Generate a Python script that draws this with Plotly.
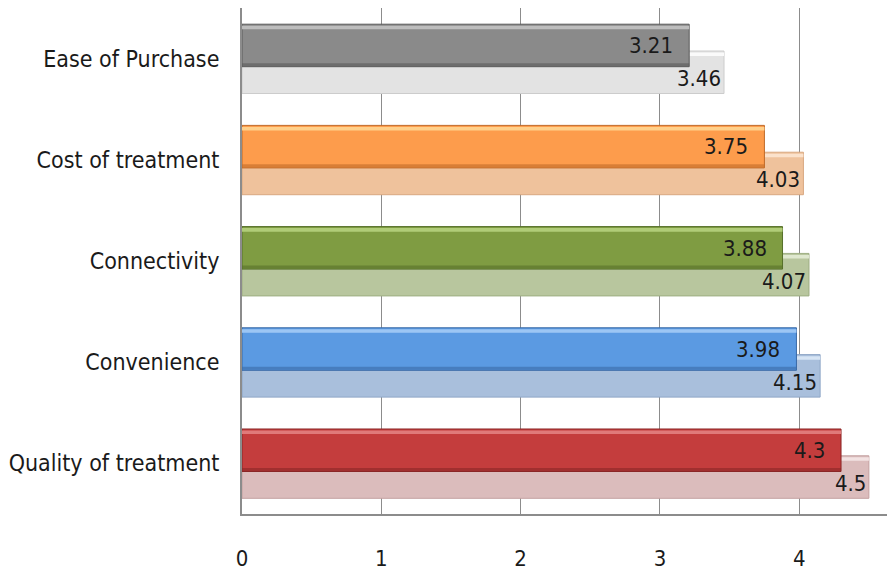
import plotly.graph_objects as go

# Categories listed bottom-to-top
categories = ["Quality of treatment", "Convenience", "Connectivity",
              "Cost of treatment", "Ease of Purchase"]
front_values = [4.3, 3.98, 3.88, 3.75, 3.21]
back_values = [4.5, 4.15, 4.07, 4.03, 3.46]

front_colors = ["#c43d3d", "#5b9ae2", "#7f9c42", "#fd9c4c", "#8a8a8a"]
front_edges = ["#8a2626", "#3a6aa6", "#56702a", "#c06a28", "#5a5a5a"]
front_highlights = ["#e07a7a", "#9cc6f4", "#b0cc78", "#ffd08a", "#bdbdbd"]
back_colors = ["#dbbcbc", "#a9bfdc", "#b8c69e", "#efc29c", "#e3e3e3"]
back_edges = ["#c4a0a0", "#8ea6c6", "#9eae82", "#d8a880", "#cccccc"]
back_highlights = ["#f2e2e2", "#d6e4f4", "#dfe8cf", "#fbe2cc", "#fafafa"]

FONT = "DejaVu Sans Condensed, DejaVu Sans, sans-serif"

FRONT_OFF, FRONT_W = -0.08, 0.42
BACK_OFF, BACK_W = -0.345, 0.42

fig = go.Figure()

# Lighter series sits behind, shifted downward
fig.add_trace(go.Bar(
    y=categories, x=back_values, orientation="h",
    offset=BACK_OFF, width=BACK_W,
    marker=dict(color=back_colors, line=dict(color=back_edges, width=1)),
    hoverinfo="skip", showlegend=False,
))
fig.add_trace(go.Bar(
    y=categories, x=back_values, orientation="h",
    offset=BACK_OFF + BACK_W - 0.05, width=0.035,
    marker=dict(color=back_highlights, line=dict(width=0)),
    hoverinfo="skip", showlegend=False,
))

# Main series in front
fig.add_trace(go.Bar(
    y=categories, x=front_values, orientation="h",
    offset=FRONT_OFF, width=FRONT_W,
    marker=dict(color=front_colors, line=dict(color=front_edges, width=1)),
    hoverinfo="skip", showlegend=False,
))
# Bevel highlight along the top edge of the front bars
fig.add_trace(go.Bar(
    y=categories, x=front_values, orientation="h",
    offset=FRONT_OFF + FRONT_W - 0.05, width=0.035,
    marker=dict(color=front_highlights, line=dict(width=0)),
    hoverinfo="skip", showlegend=False,
))
# Darker shading along the bottom edge of the front bars
fig.add_trace(go.Bar(
    y=categories, x=front_values, orientation="h",
    offset=FRONT_OFF + 0.005, width=0.03,
    marker=dict(color=front_edges, opacity=0.6, line=dict(width=0)),
    hoverinfo="skip", showlegend=False,
))

annotations = []
for cat, fv, bv in zip(categories, front_values, back_values):
    annotations.append(dict(
        x=fv, y=cat, text=f"{fv:g}", showarrow=False,
        xanchor="right", yanchor="middle", xshift=-14, yshift=13,
        font=dict(family=FONT, size=22, color="#1a1a1a"),
    ))
    annotations.append(dict(
        x=bv, y=cat, text=f"{bv:g}", showarrow=False,
        xanchor="right", yanchor="middle", xshift=-1, yshift=-20,
        font=dict(family=FONT, size=22, color="#1a1a1a"),
    ))

fig.update_layout(
    width=887, height=571,
    margin=dict(l=242, r=0, t=8, b=53),
    paper_bgcolor="white", plot_bgcolor="white",
    barmode="overlay",
    annotations=annotations,
    xaxis=dict(
        range=[0, 4.63], tickvals=[0, 1, 2, 3, 4], ticktext=["0", "1", "2", "3", "4"],
        showgrid=True, gridcolor="#8c8c8c", gridwidth=1,
        showline=True, linecolor="#8c8c8c", linewidth=2,
        zeroline=False, ticks="", ticklabelstandoff=24,
        tickfont=dict(family=FONT, size=22, color="#1a1a1a"),
        fixedrange=True,
    ),
    yaxis=dict(
        categoryorder="array", categoryarray=categories,
        range=[-0.5, 4.5],
        showgrid=False, showline=True, linecolor="#8c8c8c", linewidth=2,
        ticks="", ticklabelstandoff=16,
        tickfont=dict(family=FONT, size=23, color="#1a1a1a"),
        fixedrange=True,
    ),
)

fig.write_html("out.html")
